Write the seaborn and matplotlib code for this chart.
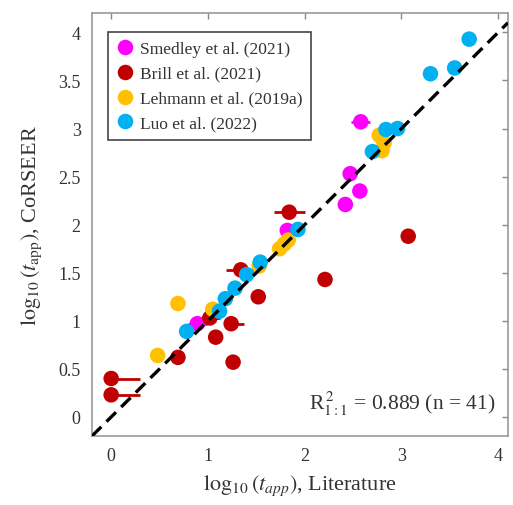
import numpy as np
import pandas as pd
import matplotlib
matplotlib.use("Agg")
import matplotlib.pyplot as plt
import seaborn as sns

# Data (log10 t_app)
STUDIES = ["Smedley et al. (2021)", "Brill et al. (2021)",
           "Lehmann et al. (2019a)", "Luo et al. (2022)"]
COLORS = ["#FF00FF", "#C00000", "#FFC000", "#00B0F0"]

smedley_lit = [2.58, 2.47, 2.57, 2.42, 1.82, 0.89]
smedley_cor = [3.07, 2.53, 2.35, 2.21, 1.94, 0.97]
smedley_xerr = [0.10, 0.0, 0.0, 0.0, 0.05, 0.10]
smedley_yerr = [0.03, 0.0, 0.0, 0.0, 0.0, 0.0]

brill_lit = [0.0, 0.0, 0.69, 1.26, 1.08, 1.24, 1.02, 1.52, 1.34, 1.84, 2.21, 3.07]
brill_cor = [0.40, 0.23, 0.62, 0.57, 0.83, 0.97, 1.03, 1.25, 1.53, 2.13, 1.43, 1.88]
brill_xerr_lo = [0.0, 0.0, 0.0, 0.05, 0.06, 0.05, 0.10, 0.07, 0.15, 0.16, 0.0, 0.0]
brill_xerr_hi = [0.30, 0.30, 0.0, 0.05, 0.06, 0.13, 0.10, 0.07, 0.15, 0.16, 0.0, 0.0]
brill_yerr = [0.0, 0.0, 0.0, 0.04, 0.03, 0.03, 0.03, 0.03, 0.06, 0.05, 0.0, 0.07]

lehmann_lit = [0.48, 0.69, 1.05, 1.53, 1.74, 1.79, 1.83, 2.77, 2.82, 2.80]
lehmann_cor = [0.64, 1.18, 1.12, 1.57, 1.75, 1.80, 1.84, 2.93, 2.85, 2.77]
lehmann_xerr = [0.05, 0.0, 0.0, 0.05, 0.05, 0.05, 0.05, 0.05, 0.05, 0.05]

luo_lit = [3.70, 3.55, 3.30, 2.96, 2.84, 2.70, 1.93, 1.54, 1.40, 1.28, 1.18, 1.12, 0.78]
luo_cor = [3.93, 3.63, 3.57, 3.00, 2.99, 2.76, 1.95, 1.61, 1.48, 1.34, 1.23, 1.10, 0.89]

R2_TEXT = r"R$^{\,2}_{1:1}$ = 0.889 (n = 41)"

df = pd.concat([
    pd.DataFrame({"lit": smedley_lit, "cor": smedley_cor, "study": STUDIES[0]}),
    pd.DataFrame({"lit": brill_lit, "cor": brill_cor, "study": STUDIES[1]}),
    pd.DataFrame({"lit": lehmann_lit, "cor": lehmann_cor, "study": STUDIES[2]}),
    pd.DataFrame({"lit": luo_lit, "cor": luo_cor, "study": STUDIES[3]}),
], ignore_index=True)

sns.set_theme(style="white")
plt.rcParams["font.family"] = ["Liberation Serif", "DejaVu Serif"]
plt.rcParams["mathtext.fontset"] = "stix"

fig = plt.figure(figsize=(5.13, 5.06), dpi=100)
ax = fig.add_axes([0.179, 0.136, 0.811, 0.836])

# error bars underneath the markers
ax.errorbar(smedley_lit, smedley_cor, xerr=smedley_xerr, yerr=smedley_yerr,
            fmt="none", ecolor=COLORS[0], elinewidth=2, capsize=0, zorder=2)
ax.errorbar(brill_lit, brill_cor, xerr=[brill_xerr_lo, brill_xerr_hi], yerr=brill_yerr,
            fmt="none", ecolor=COLORS[1], elinewidth=2, capsize=0, zorder=2)
ax.errorbar(lehmann_lit, lehmann_cor, xerr=lehmann_xerr,
            fmt="none", ecolor=COLORS[2], elinewidth=2, capsize=0, zorder=2)

sns.scatterplot(data=df, x="lit", y="cor", hue="study", hue_order=STUDIES,
                palette=COLORS, s=125, edgecolor="none", linewidth=0,
                ax=ax, zorder=3)

ax.axline((0, 0), slope=1, color="black", lw=2.4, dashes=(4, 2.2), zorder=4)

ax.set_xlim(-0.2, 4.1)
ax.set_ylim(-0.2, 4.2)
ax.set_xticks([0, 1, 2, 3, 4])
ax.set_yticks(np.arange(0, 4.01, 0.5))
ax.set_yticklabels(["0", "0.5", "1", "1.5", "2", "2.5", "3", "3.5", "4"])
ax.tick_params(direction="in", top=True, right=True, length=4, width=1,
               color="#888888", labelsize=13, labelcolor="#333333", pad=8)
for sp in ax.spines.values():
    sp.set_color("#999999")
    sp.set_linewidth(1.2)

ax.set_xlabel(r"$\log_{10}(t_{app})$, Literature", fontsize=16, color="#333333", labelpad=6)
ax.set_ylabel(r"$\log_{10}(t_{\rm app})$, CoRSEER", fontsize=16, color="#333333", labelpad=10)

ax.text(0.97, 0.045, R2_TEXT, transform=ax.transAxes, ha="right", va="bottom",
        fontsize=15.5, color="#333333")

leg = ax.legend(loc="upper left", bbox_to_anchor=(0.038, 0.955), borderaxespad=0,
                fontsize=12.5, frameon=True, fancybox=False, framealpha=1,
                edgecolor="#444444", labelspacing=0.5, handlelength=1.0,
                handletextpad=0.35, borderpad=0.5, title=None)
leg.get_frame().set_linewidth(1.2)
for t in leg.get_texts():
    t.set_color("#333333")

fig.savefig("out.png", dpi=100)
